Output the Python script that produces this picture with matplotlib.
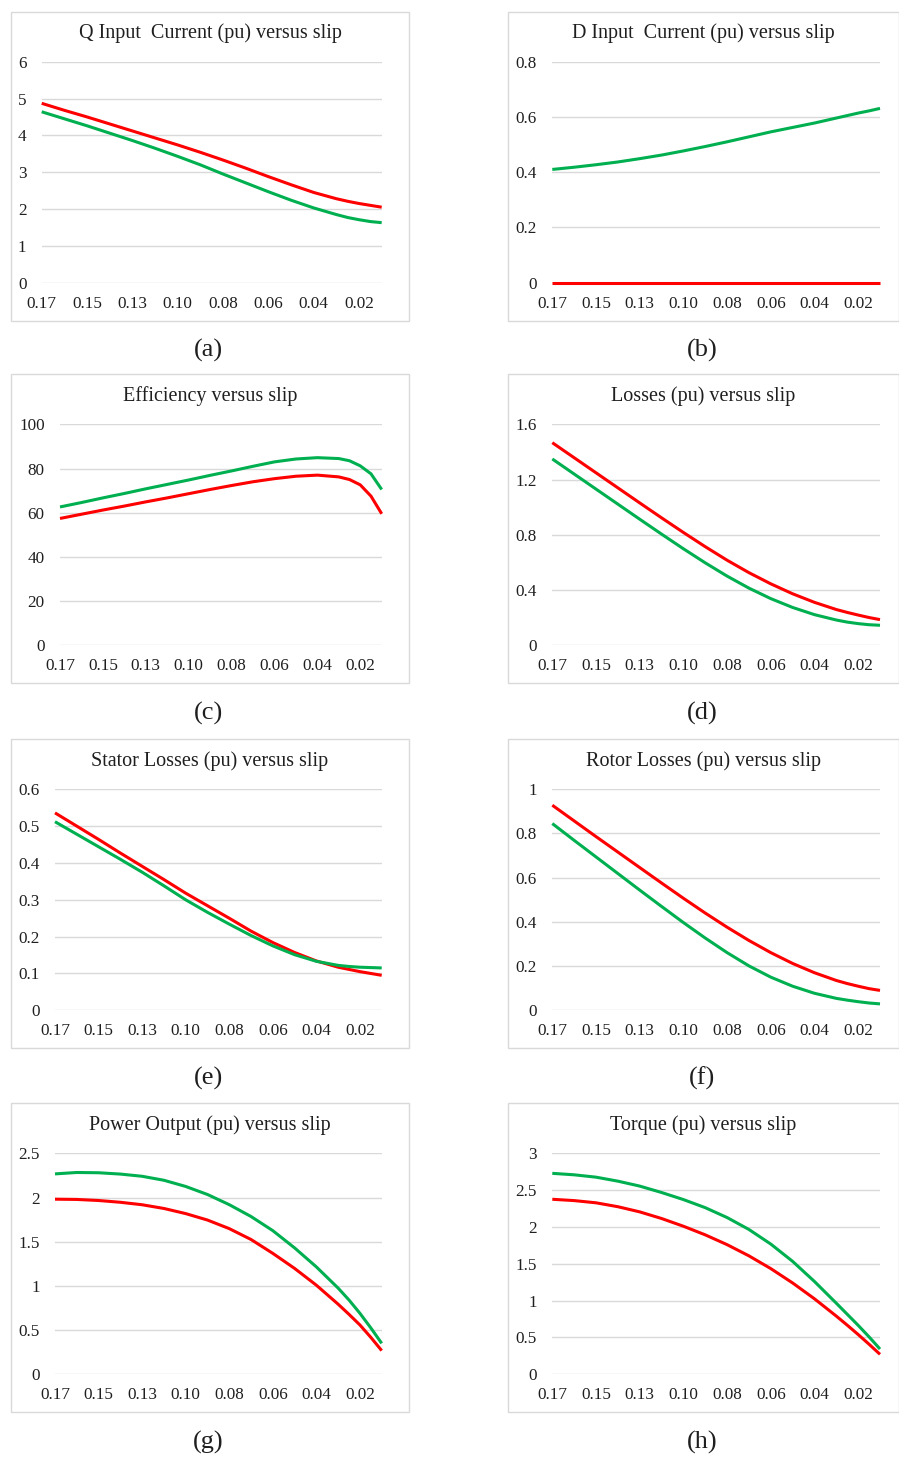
import matplotlib
matplotlib.use("Agg")
import matplotlib.pyplot as plt
from matplotlib.patches import Rectangle

# Slip points (the x categories)
slip = [0.170, 0.159, 0.148, 0.137, 0.126, 0.115, 0.104, 0.093, 0.082,
        0.071, 0.060, 0.049, 0.038, 0.027, 0.0215, 0.016, 0.0105, 0.005]
xtick_pos = [0.170, 0.148, 0.126, 0.104, 0.082, 0.060, 0.038, 0.016]
xtick_labels = ["0.17", "0.15", "0.13", "0.10", "0.08", "0.06", "0.04", "0.02"]

# (a) Q input current
q_red = [4.87, 4.68, 4.50, 4.31, 4.12, 3.93, 3.74, 3.54, 3.33,
         3.11, 2.88, 2.66, 2.45, 2.28, 2.21, 2.15, 2.10, 2.05]
q_green = [4.64, 4.45, 4.26, 4.06, 3.86, 3.65, 3.43, 3.20, 2.95,
           2.71, 2.47, 2.24, 2.03, 1.85, 1.77, 1.71, 1.66, 1.63]

# (b) D input current
d_red = [0.0] * 18
d_green = [0.410, 0.418, 0.427, 0.437, 0.449, 0.462, 0.477, 0.493, 0.510,
           0.528, 0.546, 0.562, 0.578, 0.596, 0.605, 0.614, 0.622, 0.631]

# (c) efficiency
eff_red = [57.4, 59.3, 61.2, 63.0, 64.9, 66.7, 68.6, 70.5, 72.3,
           74.0, 75.4, 76.5, 77.0, 76.2, 75.0, 72.6, 67.5, 59.5]
eff_green = [62.6, 64.6, 66.7, 68.7, 70.8, 72.8, 74.8, 76.9, 78.9,
             81.0, 83.0, 84.3, 84.9, 84.5, 83.5, 81.2, 77.6, 70.5]

# (d) losses
loss_red = [1.467, 1.358, 1.249, 1.140, 1.031, 0.923, 0.817, 0.714, 0.616,
            0.526, 0.445, 0.373, 0.311, 0.259, 0.238, 0.219, 0.201, 0.186]
loss_green = [1.349, 1.240, 1.131, 1.022, 0.913, 0.805, 0.699, 0.597, 0.501,
              0.414, 0.338, 0.274, 0.222, 0.183, 0.168, 0.157, 0.149, 0.145]

# (e) stator losses
stator_red = [0.536, 0.500, 0.464, 0.427, 0.391, 0.355, 0.318, 0.284, 0.250,
              0.215, 0.184, 0.157, 0.134, 0.117, 0.111, 0.105, 0.100, 0.095]
stator_green = [0.512, 0.478, 0.444, 0.410, 0.375, 0.338, 0.300, 0.266, 0.234,
                0.203, 0.175, 0.151, 0.133, 0.122, 0.119, 0.117, 0.116, 0.115]

# (f) rotor losses
rotor_red = [0.928, 0.857, 0.786, 0.716, 0.646, 0.576, 0.507, 0.440, 0.376,
             0.316, 0.261, 0.212, 0.170, 0.135, 0.121, 0.109, 0.098, 0.090]
rotor_green = [0.845, 0.769, 0.694, 0.619, 0.544, 0.470, 0.397, 0.327, 0.261,
               0.201, 0.150, 0.109, 0.077, 0.054, 0.046, 0.039, 0.033, 0.029]

# (g) power output
pout_red = [1.981, 1.978, 1.966, 1.946, 1.918, 1.876, 1.818, 1.745, 1.648,
            1.525, 1.368, 1.198, 1.008, 0.793, 0.678, 0.558, 0.418, 0.268]
pout_green = [2.267, 2.283, 2.280, 2.265, 2.240, 2.195, 2.125, 2.034, 1.919,
              1.785, 1.625, 1.430, 1.215, 0.975, 0.840, 0.690, 0.525, 0.350]

# (h) torque
torque_red = [2.376, 2.358, 2.328, 2.275, 2.205, 2.115, 2.010, 1.893, 1.760,
              1.608, 1.435, 1.240, 1.025, 0.790, 0.667, 0.540, 0.408, 0.271]
torque_green = [2.728, 2.708, 2.676, 2.622, 2.555, 2.468, 2.372, 2.262, 2.128,
                1.966, 1.768, 1.533, 1.260, 0.965, 0.815, 0.665, 0.508, 0.343]

RED = "#FF0000"
GREEN = "#00B050"
GRID = "#D9D9D9"
TXT = "#1f1f1f"
SERIF = ["Liberation Serif", "DejaVu Serif"]

W, H = 899, 1463
fig = plt.figure(figsize=(W / 100, H / 100), dpi=100)

# title, red, green, yticks, ytick labels, plot-area left px, letter
panels = [
    ("Q Input  Current (pu) versus slip", q_red, q_green,
     [0, 1, 2, 3, 4, 5, 6], ["0", "1", "2", "3", "4", "5", "6"], 41.7, "(a)"),
    ("D Input  Current (pu) versus slip", d_red, d_green,
     [0, 0.2, 0.4, 0.6, 0.8], ["0", "0.2", "0.4", "0.6", "0.8"], 552.3, "(b)"),
    ("Efficiency versus slip", eff_red, eff_green,
     [0, 20, 40, 60, 80, 100], ["0", "20", "40", "60", "80", "100"], 60.0, "(c)"),
    ("Losses (pu) versus slip", loss_red, loss_green,
     [0, 0.4, 0.8, 1.2, 1.6], ["0", "0.4", "0.8", "1.2", "1.6"], 552.3, "(d)"),
    ("Stator Losses (pu) versus slip", stator_red, stator_green,
     [0, 0.1, 0.2, 0.3, 0.4, 0.5, 0.6],
     ["0", "0.1", "0.2", "0.3", "0.4", "0.5", "0.6"], 55.0, "(e)"),
    ("Rotor Losses (pu) versus slip", rotor_red, rotor_green,
     [0, 0.2, 0.4, 0.6, 0.8, 1.0], ["0", "0.2", "0.4", "0.6", "0.8", "1"], 552.3, "(f)"),
    ("Power Output (pu) versus slip", pout_red, pout_green,
     [0, 0.5, 1.0, 1.5, 2.0, 2.5], ["0", "0.5", "1", "1.5", "2", "2.5"], 55.0, "(g)"),
    ("Torque (pu) versus slip", torque_red, torque_green,
     [0, 0.5, 1.0, 1.5, 2.0, 2.5, 3.0], ["0", "0.5", "1", "1.5", "2", "2.5", "3"], 552.3, "(h)"),
]

row_top = [11.7, 374.3, 739.3, 1103.3]
box_h = 309.0

for k, (title, red, green, yt, ytl, left_px, letter) in enumerate(panels):
    row, col = divmod(k, 2)
    top = row_top[row]
    if col == 0:
        bx0, bx1, right_px = 10.7, 409.3, 381.7
    else:
        bx0, bx1, right_px = 508.3, 898.5, 880.0

    # chart area border
    fig.patches.append(Rectangle((bx0 / W, 1 - (top + box_h) / H),
                                 (bx1 - bx0) / W, box_h / H,
                                 transform=fig.transFigure, fill=False,
                                 edgecolor=GRID, linewidth=1.0))

    plot_top = top + 50.0
    plot_bot = top + 271.0
    ax = fig.add_axes([left_px / W, 1 - plot_bot / H,
                       (right_px - left_px) / W, (plot_bot - plot_top) / H])
    ax.plot(slip, red, color=RED, lw=2.2, clip_on=False, zorder=3,
            solid_joinstyle="round", solid_capstyle="butt")
    ax.plot(slip, green, color=GREEN, lw=2.2, clip_on=False, zorder=3,
            solid_joinstyle="round", solid_capstyle="butt")
    ax.set_xlim(0.170, 0.005)
    ax.set_ylim(yt[0], yt[-1])
    ax.set_xticks(xtick_pos)
    ax.set_xticklabels(xtick_labels)
    ax.set_yticks(yt)
    ax.set_yticklabels(ytl)
    ax.grid(axis="y", color=GRID, lw=1.0)
    ax.grid(axis="x", visible=False)
    ax.set_axisbelow(True)
    for s in ax.spines.values():
        s.set_visible(False)
    ax.tick_params(length=0, labelsize=12.3, labelcolor=TXT)
    ax.tick_params(axis="y", pad=11)
    ax.tick_params(axis="x", pad=9.5)
    for lab in ax.get_xticklabels() + ax.get_yticklabels():
        lab.set_family(SERIF)

    fig.text((bx0 + bx1) / 2 / W, 1 - (top + 21.5) / H, title,
             ha="center", va="center", fontsize=14.5, color=TXT, family=SERIF)
    fig.text(((bx0 + bx1) / 2 - 1.5) / W, 1 - (top + box_h + 30) / H, letter,
             ha="center", va="center", fontsize=19, color=TXT, family=SERIF)

fig.savefig("out.png", dpi=100, facecolor="white")
